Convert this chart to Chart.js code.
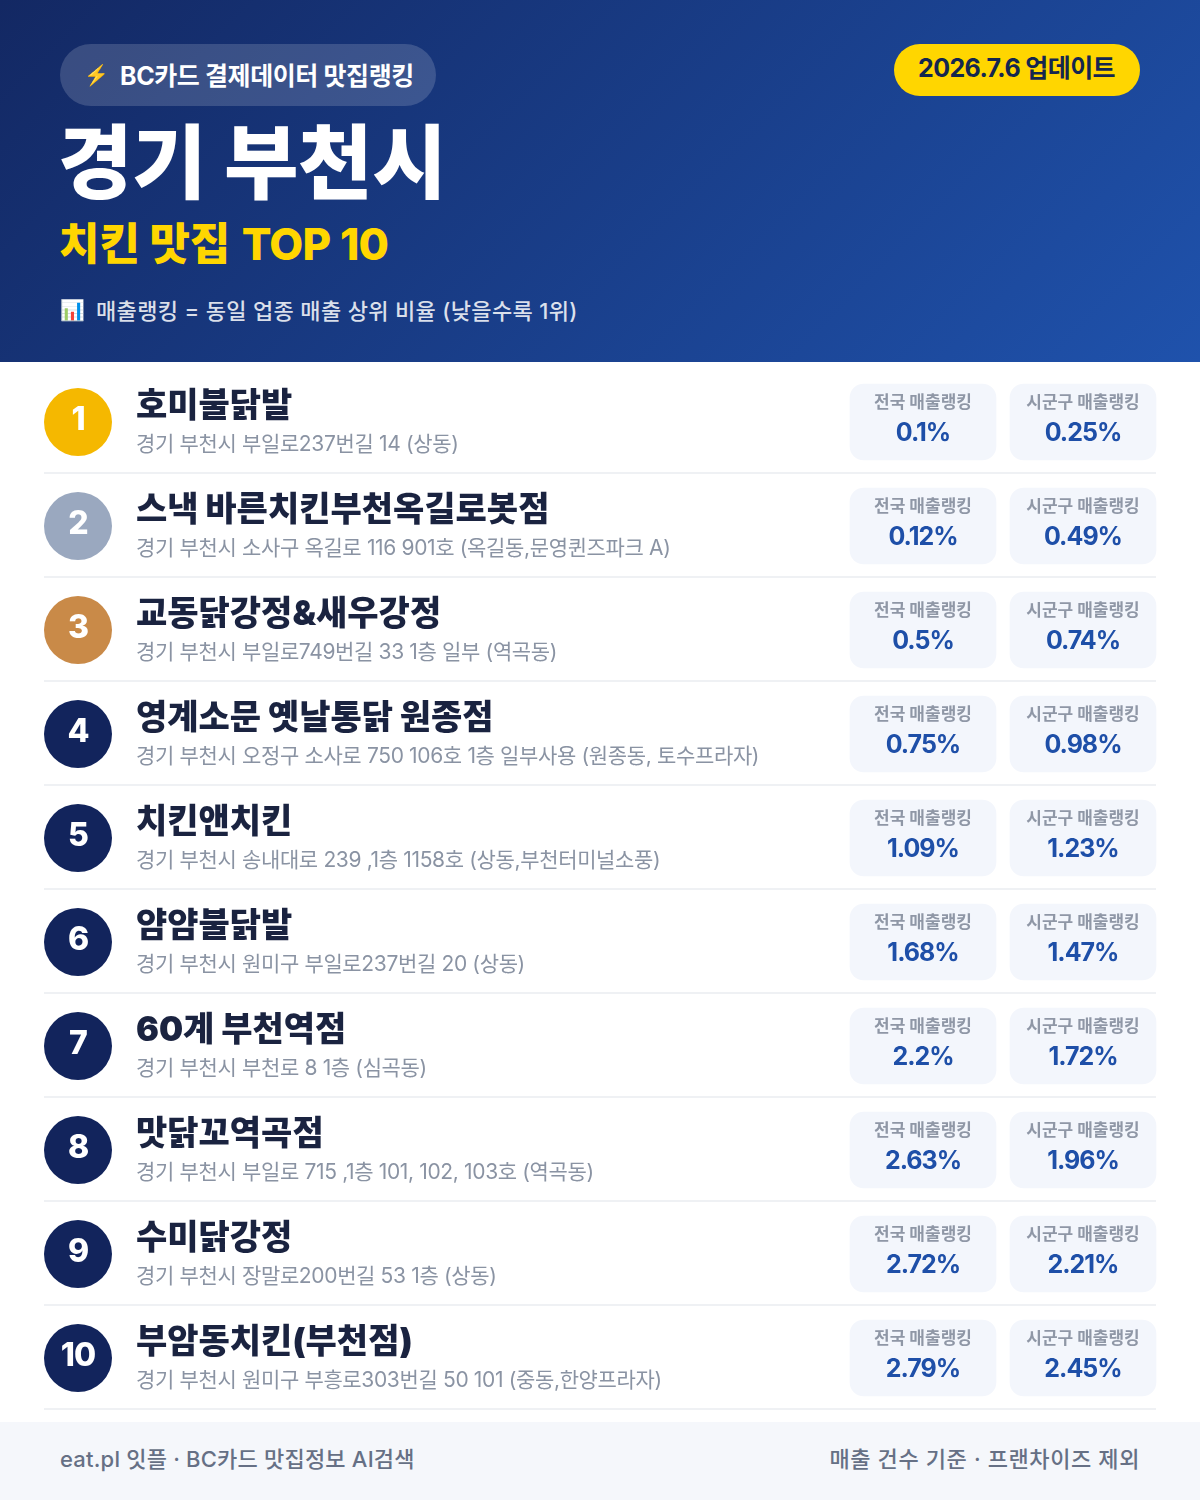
<!DOCTYPE html>
<html lang="ko">
<head>
<meta charset="utf-8">
<title>경기 부천시 치킨 맛집 TOP 10</title>
<script src="https://cdn.jsdelivr.net/npm/chart.js@4/dist/chart.umd.min.js"></script>
<style>
html,body{margin:0;padding:0;background:#fff}
body{width:1200px;height:1500px;position:relative;overflow:hidden;font-family:Inter,"Noto Sans CJK KR",sans-serif}
.t{position:absolute;white-space:nowrap;line-height:1}
#hdr{position:absolute;left:0;top:0;width:1200px;height:362px;background:linear-gradient(135deg,#132863 0%,#1f52ac 100%)}
#pill{position:absolute;left:60px;top:44px;width:376px;height:62px;border-radius:31px;background:rgba(255,255,255,.16)}
#date{position:absolute;left:894px;top:44px;width:246px;height:52px;border-radius:26px;background:#ffd600}
#ftr{position:absolute;left:0;top:1422px;width:1200px;height:78px;background:#f5f7fb}
#wrap{position:absolute;left:0;top:362px;width:1200px;height:1060px}
</style>
</head>
<body>
<div id="hdr">
  <div id="pill"></div>
  <div class="t" style="left:84px;top:65px;font-size:20px">⚡</div>
  <div class="t" style="left:120px;top:64px;font-size:25px;font-weight:700;color:#fff;letter-spacing:-.4px">BC카드 결제데이터 맛집랭킹</div>
  <div id="date"></div>
  <div class="t" style="left:918px;top:56px;font-size:25px;font-weight:700;color:#14264f;letter-spacing:-.6px">2026.7.6 업데이트</div>
  <div class="t" style="left:58px;top:123px;font-size:81px;font-weight:900;color:#fff;letter-spacing:-.4px;word-spacing:2px">경기 부천시</div>
  <div class="t" style="left:59px;top:222px;font-size:44px;font-weight:900;color:#ffd600;letter-spacing:-.1px;word-spacing:1px">치킨 맛집 <span style="font-weight:800;letter-spacing:-.9px;margin-left:2px">TOP 10</span></div>
  <div class="t" style="left:60px;top:300px;font-size:20px">📊</div>
  <div class="t" style="left:96px;top:300px;font-size:22px;font-weight:500;color:rgba(255,255,255,.85);letter-spacing:.33px">매출랭킹 = 동일 업종 매출 상위 비율 (낮을수록 1위)</div>
</div>
<div id="wrap"><canvas id="c" width="1200" height="1060"></canvas></div>
<div id="ftr">
  <div class="t" style="left:60px;top:26px;font-size:22px;font-weight:500;color:#667085;letter-spacing:.2px">eat.pl 잇플 · BC카드 맛집정보 AI검색</div>
  <div class="t" style="right:60px;top:26px;font-size:22px;font-weight:500;color:#667085;letter-spacing:.6px">매출 건수 기준 · 프랜차이즈 제외</div>
</div>
<script>
const ranks = [1,2,3,4,5,6,7,8,9,10];
const stores = ["호미불닭발","스낵 바른치킨부천옥길로봇점","교동닭강정&새우강정","영계소문 옛날통닭 원종점","치킨앤치킨","얌얌불닭발","60계 부천역점","맛닭꼬역곡점","수미닭강정","부암동치킨(부천점)"];
const addresses = ["경기 부천시 부일로237번길 14 (상동)","경기 부천시 소사구 옥길로 116 901호 (옥길동,문영퀸즈파크 A)","경기 부천시 부일로749번길 33 1층 일부 (역곡동)","경기 부천시 오정구 소사로 750 106호 1층 일부사용 (원종동, 토수프라자)","경기 부천시 송내대로 239 ,1층 1158호 (상동,부천터미널소풍)","경기 부천시 원미구 부일로237번길 20 (상동)","경기 부천시 부천로 8 1층 (심곡동)","경기 부천시 부일로 715 ,1층 101, 102, 103호 (역곡동)","경기 부천시 장말로200번길 53 1층 (상동)","경기 부천시 원미구 부흥로303번길 50 101 (중동,한양프라자)"];
const nationalRank = [0.1,0.12,0.5,0.75,1.09,1.68,2.2,2.63,2.72,2.79];
const localRank = [0.25,0.49,0.74,0.98,1.23,1.47,1.72,1.96,2.21,2.45];
const nationalLabel = "전국 매출랭킹";
const localLabel = "시군구 매출랭킹";

const FONT = 'Inter,"Noto Sans CJK KR",sans-serif';
const BADGE_X = 78, NAME_X = 136, LINE_L = 44, LINE_R = 1156;
const CARD_A = [850,996], CARD_B = [1010,1156];
const badgeColor = r => r===1?'#f5b800':r===2?'#9aa8bf':r===3?'#c98a48':'#12245c';

const rowText = {
  id:'rowText',
  beforeDatasetsDraw(chart){
    const {ctx,scales:{x,y}} = chart;
    ctx.save();
    ctx.fillStyle = '#eff1f4';
    stores.forEach((s,i)=>{
      const p = y.getPixelForValue(i);
      ctx.fillRect(x.getPixelForValue(LINE_L), p+50, x.getPixelForValue(LINE_R)-x.getPixelForValue(LINE_L), 2);
    });
    ctx.restore();
  },
  afterDatasetsDraw(chart){
    const {ctx,scales:{x,y}} = chart;
    ctx.save();
    ctx.textBaseline = 'alphabetic';
    const put = (txt,px,py,font,color,align,ls) => {
      ctx.font = font+' '+FONT; ctx.fillStyle = color; ctx.textAlign = align; ctx.letterSpacing = ls||'0px';
      ctx.fillText(txt,px,py);
    };
    stores.forEach((s,i)=>{
      const p = y.getPixelForValue(i);
      put(String(ranks[i]), x.getPixelForValue(BADGE_X), p+8, '800 32px', '#fff', 'center', '-1px');
      put(s, x.getPixelForValue(NAME_X), p-5, '900 34px', '#1a2340', 'left');
      put(addresses[i], x.getPixelForValue(NAME_X), p+29, '400 21px', '#8a93a3', 'left', '-0.35px');
      [[CARD_A,nationalLabel,nationalRank[i]],[CARD_B,localLabel,localRank[i]]].forEach(([c,l,v])=>{
        const cx = x.getPixelForValue((c[0]+c[1])/2);
        put(l, cx, p-14, '700 17px', '#8f97a6', 'center');
        put(v+'%', cx, p+19, '700 25px', '#1e4fa8', 'center','-1px');
      });
    });
    ctx.restore();
  }
};

new Chart(document.getElementById('c'),{
  data:{
    labels:stores,
    datasets:[
      {type:'bar',label:nationalLabel,indexAxis:'y',data:stores.map(()=>CARD_A),backgroundColor:'#f3f6fc',borderRadius:14,borderSkipped:false,barThickness:76,grouped:false},
      {type:'bar',label:localLabel,indexAxis:'y',data:stores.map(()=>CARD_B),backgroundColor:'#f3f6fc',borderRadius:14,borderSkipped:false,barThickness:76,grouped:false},
      {type:'scatter',label:'순위',data:stores.map(s=>({x:BADGE_X,y:s})),pointRadius:34,pointHoverRadius:34,pointBorderWidth:0,backgroundColor:ranks.map(badgeColor),showLine:false}
    ]
  },
  options:{
    indexAxis:'y',
    responsive:false,
    animation:false,
    events:[],
    layout:{autoPadding:false,padding:{top:8,bottom:12,left:0,right:0}},
    plugins:{legend:{display:false},tooltip:{enabled:false}},
    scales:{
      x:{type:'linear',min:0,max:1200,display:false},
      y:{type:'category',labels:stores,offset:true,display:false}
    }
  },
  plugins:[rowText]
});
</script>
</body>
</html>
